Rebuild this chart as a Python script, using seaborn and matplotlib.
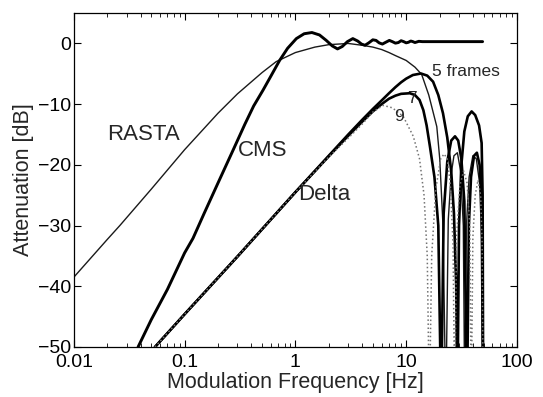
import numpy as np
import pandas as pd
import matplotlib
matplotlib.use('Agg')
import matplotlib.pyplot as plt
import seaborn as sns

# values (frequency in Hz, attenuation in dB)
rasta_f = [0.01, 0.02, 0.026, 0.05, 0.1, 0.2, 0.3, 0.5, 0.67, 1.0, 1.5, 2.0, 3.0, 4.0, 5.0,
           6.0, 7.0, 8.0, 10.0, 12.0, 13.8, 16.0, 18.9, 20.1, 21.5, 22.8, 24.0, 25.5, 27.0,
           29.0, 31.0, 32.8, 33.8, 35.0, 37.0, 40.0, 43.0, 46.0, 48.0, 49.5]
rasta_db = [-38.5, -32.3, -30.0, -24.0, -17.5, -11.5, -8.3, -4.8, -3.0, -1.5, -0.6, -0.2, 0.0, -0.3, -0.6,
            -1.0, -1.5, -2.0, -2.8, -3.9, -5.1, -8.5, -13.7, -19.0, -30.0, -60.0, -29.0, -21.5, -18.5,
            -18.0, -21.0, -30.0, -60.0, -30.0, -22.0, -18.5, -19.0, -23.0, -32.0, -60.0]

cms_f = [0.038, 0.05, 0.07, 0.1, 0.119, 0.15, 0.2, 0.275, 0.35, 0.42, 0.51, 0.6, 0.72, 0.85, 1.02,
         1.2, 1.41, 1.65, 1.9, 2.15, 2.4, 2.65, 2.95, 3.3, 3.65, 3.95, 4.25, 4.6, 5.0, 5.35, 5.7,
         6.1, 6.55, 7.05, 7.5, 8.0, 8.5, 9.0, 9.5, 10.0, 10.5, 11.0, 11.5, 12.0, 12.5, 13.0, 14.0,
         20.0, 30.0, 49.0]
cms_db = [-50.0, -45.5, -40.5, -34.5, -32.1, -28.0, -23.0, -17.5, -13.3, -10.3, -7.7, -5.4, -2.8, -0.8, 0.8,
          1.6, 1.8, 1.4, 0.5, -0.4, -0.9, -0.5, 0.3, 0.8, 0.4, -0.1, -0.3, 0.1, 0.6, 0.5, 0.1,
          -0.1, 0.2, 0.5, 0.3, 0.05, 0.15, 0.45, 0.3, 0.1, 0.2, 0.4, 0.3, 0.15, 0.25, 0.35, 0.3,
          0.3, 0.3, 0.3]

d5_f = [0.054, 0.1, 0.3, 1.0, 2.0, 3.0, 4.0, 5.0, 6.0, 7.0, 8.0, 9.0, 10.0, 11.5, 13.6, 15.5,
        17.5, 19.5, 21.5, 23.5, 25.5, 27.0, 28.3, 29.0, 30.0, 31.5, 33.5, 36.0, 39.0, 42.0,
        45.5, 48.0, 49.0, 49.6]
d5_db = [-50.0, -44.6, -35.1, -24.5, -18.5, -15.0, -12.6, -10.8, -9.4, -8.2, -7.2, -6.4, -5.8, -5.2, -4.95, -5.3,
         -6.3, -8.5, -11.5, -15.5, -21.0, -28.0, -40.0, -60.0, -30.0, -20.0, -14.5, -12.0, -11.2, -11.8,
         -13.5, -16.4, -25.0, -60.0]

d7_f = [0.054, 0.1, 0.3, 1.0, 2.0, 3.0, 4.0, 5.0, 6.0, 7.0, 8.0, 9.0, 10.8, 12.0, 13.2, 14.3,
        15.3, 16.4, 18.0, 19.5, 20.7, 21.8, 23.5, 25.5, 27.6, 29.5, 31.5, 33.5, 35.4, 36.8,
        38.5, 41.0, 43.5, 46.0, 48.0, 49.6]
d7_db = [-50.0, -44.6, -35.1, -24.5, -18.6, -15.2, -12.9, -11.2, -10.0, -9.1, -8.6, -8.3, -8.2, -8.5, -9.3, -11.0,
         -13.5, -17.0, -22.0, -30.0, -60.0, -28.0, -19.5, -16.0, -15.3, -16.0, -19.0, -26.0, -60.0, -30.0,
         -22.0, -18.5, -18.0, -20.0, -26.0, -60.0]

d9_f = [0.054, 0.1, 0.3, 1.0, 2.0, 3.0, 4.0, 5.0, 6.2, 7.5, 9.4, 11.6, 13.2, 14.5, 15.5, 16.2,
        17.0, 18.5, 20.5, 22.0, 23.5, 25.0, 26.5, 27.4, 28.5, 30.5, 33.0, 35.5, 37.5, 38.7,
        40.0, 42.0, 44.5, 47.0, 48.5, 49.6]
d9_db = [-50.0, -44.6, -35.1, -24.5, -18.7, -15.6, -13.3, -11.3, -10.2, -10.6, -12.0, -15.3, -19.0, -25.0, -35.0, -60.0,
         -35.0, -24.0, -19.0, -18.2, -19.0, -23.0, -33.0, -60.0, -32.0, -23.5, -21.0, -23.0, -30.0, -60.0,
         -32.0, -25.0, -22.5, -25.0, -33.0, -60.0]

x_ticks = [0.01, 0.1, 1, 10, 100]
x_tick_labels = ['0.01', '0.1', '1', '10', '100']
y_ticks = [0, -10, -20, -30, -40, -50]

sns.set_style('white')
plt.rcParams['font.family'] = ['Liberation Sans', 'DejaVu Sans']

fig = plt.figure(figsize=(5.43, 3.97), dpi=100)
ax = fig.add_axes([0.136, 0.126, 0.816, 0.841])

sns.lineplot(x=rasta_f, y=rasta_db, ax=ax, color='0.1', lw=1.0, estimator=None, sort=False)
sns.lineplot(x=cms_f, y=cms_db, ax=ax, color='black', lw=2.1, estimator=None, sort=False)
sns.lineplot(x=d5_f, y=d5_db, ax=ax, color='black', lw=1.9, estimator=None, sort=False)
sns.lineplot(x=d7_f, y=d7_db, ax=ax, color='black', lw=1.9, estimator=None, sort=False)
sns.lineplot(x=d9_f, y=d9_db, ax=ax, color='0.45', lw=1.1, ls=':', estimator=None, sort=False)

ax.set_xscale('log')
ax.set_xlim(0.01, 100)
ax.set_ylim(-50, 5)
ax.set_xticks(x_ticks)
ax.set_xticklabels(x_tick_labels)
ax.set_yticks(y_ticks)
ax.tick_params(which='both', direction='in', bottom=True, left=True, top=True, right=True,
               labelsize=14, colors='black')
ax.tick_params(axis='x', pad=5)
ax.tick_params(axis='y', pad=2)
ax.tick_params(which='major', length=5, width=0.8)
ax.tick_params(which='minor', length=3, width=0.6)
for s in ax.spines.values():
    s.set_linewidth(0.9)
    s.set_color('black')

ax.set_xlabel('Modulation Frequency [Hz]', fontsize=15.5, labelpad=1)
ax.set_ylabel('Attenuation [dB]', fontsize=15.5, labelpad=3)

ax.text(0.0199, -15.0, 'RASTA', fontsize=16, va='center', ha='left')
ax.text(0.305, -17.7, 'CMS', fontsize=16, va='center', ha='left')
ax.text(1.06, -24.8, 'Delta', fontsize=16, va='center', ha='left')
ax.text(17.0, -4.7, '5 frames', fontsize=12.5, va='center', ha='left')
ax.text(10.3, -9.0, '7', fontsize=12.5, va='center', ha='left')
ax.text(7.8, -12.0, '9', fontsize=12.5, va='center', ha='left')

plt.savefig('out.png', dpi=100)
plt.close()
